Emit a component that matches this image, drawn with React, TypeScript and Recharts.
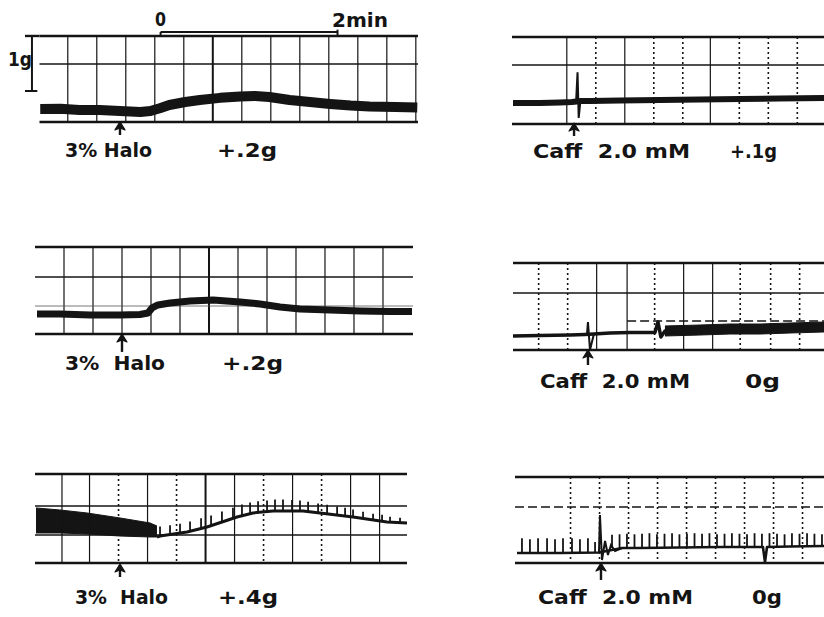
import React from 'react';
import { ComposedChart, Line, Area, XAxis, YAxis, ReferenceLine, ReferenceDot } from 'recharts';

const INK = '#141414';

// t = seconds from the drug arrow, g = tension (grams) above the pre-drug baseline

// top left: 3% halothane
const halo1Trace = [
  { t: -55, g: 0.018 }, { t: -41, g: 0.02 }, { t: -28, g: 0 }, { t: -14, g: 0 }, { t: 0, g: -0.02 },
  { t: 14, g: -0.036 }, { t: 21, g: -0.02 }, { t: 28, g: 0.036 }, { t: 34, g: 0.09 }, { t: 45, g: 0.145 },
  { t: 55, g: 0.18 }, { t: 69, g: 0.22 }, { t: 83, g: 0.245 }, { t: 93, g: 0.255 }, { t: 103, g: 0.236 },
  { t: 117, g: 0.18 }, { t: 131, g: 0.145 }, { t: 145, g: 0.11 }, { t: 159, g: 0.08 }, { t: 172, g: 0.064 },
  { t: 190, g: 0.055 }, { t: 205, g: 0.045 },
];
const halo1Borders = [1.345, -0.218];
const halo1Inner = [0.836];
const halo1Grid = [-36, -16, 4, 24, 44, 84, 104, 124, 144, 164, 184, 204];
const halo1GridBold = [64];
const halo1ScaleBar = [28, 150]; // 0 .. 2 min
const halo1Calib = [1.345, 0.345]; // 1 g

// middle left: 3% halothane
const halo2Trace = [
  { t: -58.6, g: 0 }, { t: -42.8, g: 0 }, { t: -22, g: -0.018 }, { t: -1.4, g: -0.018 }, { t: 12.4, g: -0.009 },
  { t: 17.9, g: 0.018 }, { t: 20.7, g: 0.109 }, { t: 24.8, g: 0.164 }, { t: 33.1, g: 0.2 }, { t: 46.9, g: 0.236 },
  { t: 62.8, g: 0.255 }, { t: 81.4, g: 0.218 }, { t: 95.2, g: 0.182 }, { t: 109, g: 0.127 }, { t: 122.8, g: 0.091 },
  { t: 143.4, g: 0.073 }, { t: 164.1, g: 0.055 }, { t: 184.8, g: 0.045 }, { t: 200, g: 0.045 },
];
const halo2Borders = [1.218, -0.364];
const halo2Inner = [0.673];
const halo2Faint = [0.145];
const halo2Grid = [-40, -20, 0, 20, 40, 80, 100, 120, 140, 160, 180];
const halo2GridBold = [60];

// bottom left: 3% halothane, twitching muscle
const halo3Band = [
  { t: -57.9, range: [0, 0.455] }, { t: -41.4, range: [0, 0.418] }, { t: -22.8, range: [-0.018, 0.364] },
  { t: 0, range: [-0.055, 0.273] }, { t: 20.7, range: [-0.073, 0.182] }, { t: 25.5, range: [-0.073, 0.127] },
];
const halo3Trace = [
  { t: 25.5, g: -0.073 }, { t: 27.6, g: -0.055 }, { t: 46.2, g: 0.018 }, { t: 60, g: 0.109 }, { t: 80.7, g: 0.291 },
  { t: 91.7, g: 0.364 }, { t: 105.5, g: 0.4 }, { t: 126.2, g: 0.4 }, { t: 137.9, g: 0.364 }, { t: 160.7, g: 0.291 },
  { t: 184.1, g: 0.2 }, { t: 197.9, g: 0.182 },
];
const halo3Twitches = [
  { t: 27.6, lo: -0.055, hi: 0.12 }, { t: 34.5, lo: -0.036, hi: 0.14 }, { t: 41.4, lo: -0.018, hi: 0.17 },
  { t: 48.3, lo: 0.018, hi: 0.21 }, { t: 55.9, lo: 0.073, hi: 0.27 }, { t: 62.8, lo: 0.127, hi: 0.32 },
  { t: 70.3, lo: 0.182, hi: 0.39 }, { t: 77.9, lo: 0.255, hi: 0.46 }, { t: 84.1, lo: 0.309, hi: 0.52 },
  { t: 89.7, lo: 0.345, hi: 0.555 }, { t: 95.2, lo: 0.364, hi: 0.575 }, { t: 101.4, lo: 0.382, hi: 0.59 },
  { t: 106.9, lo: 0.4, hi: 0.61 }, { t: 112.4, lo: 0.4, hi: 0.61 }, { t: 118.6, lo: 0.4, hi: 0.6 },
  { t: 124.1, lo: 0.4, hi: 0.59 }, { t: 129.7, lo: 0.382, hi: 0.57 }, { t: 136.6, lo: 0.364, hi: 0.535 },
  { t: 142.8, lo: 0.345, hi: 0.515 }, { t: 149.7, lo: 0.327, hi: 0.48 }, { t: 155.2, lo: 0.309, hi: 0.46 },
  { t: 160.7, lo: 0.291, hi: 0.425 }, { t: 167.6, lo: 0.255, hi: 0.385 }, { t: 174.5, lo: 0.236, hi: 0.35 },
  { t: 180.7, lo: 0.218, hi: 0.33 }, { t: 186.2, lo: 0.2, hi: 0.295 }, { t: 193.1, lo: 0.182, hi: 0.275 },
];
const halo3Borders = [1.073, -0.545];
const halo3Inner = [0.491, -0.036];
const halo3Grid = [-40, -21, 19, 79, 119, 159, 179];
const halo3GridDotted = [-1, 39, 99, 139];
const halo3GridBold = [59];

// top right: caffeine 2.0 mM
const caff1Trace = [
  { t: -42.1, g: 0 }, { t: -23.4, g: 0 }, { t: -9.7, g: 0.009 }, { t: -1.4, g: 0.018 }, { t: 4.8, g: 0.036 },
  { t: 11, g: 0.036 }, { t: 31.7, g: 0.045 }, { t: 59.3, g: 0.055 }, { t: 86.9, g: 0.064 }, { t: 114.5, g: 0.073 },
  { t: 142, g: 0.082 }, { t: 172.4, g: 0.091 },
];
const caff1Spike = [{ t: 1.4, g: 0.02 }, { t: 2.4, g: 0.56 }, { t: 3.2, g: -0.27 }, { t: 4.4, g: 0.04 }];
const caff1Borders = [1.2, -0.382];
const caff1Inner = [0.691];
const caff1Grid = [-5, 35, 94];
const caff1GridDotted = [15, 55, 75, 114, 134, 154];

// middle right: caffeine 2.0 mM
const caff2Trace = [
  { t: -51.7, g: -0.018 }, { t: -33.1, g: -0.009 }, { t: -12.4, g: 0 }, { t: -2.1, g: 0.009 }, { t: 4.1, g: 0.018 },
  { t: 15.2, g: 0.036 }, { t: 29, g: 0.045 }, { t: 46.2, g: 0.045 }, { t: 48.3, g: 0.236 }, { t: 50.3, g: -0.036 },
  { t: 53.1, g: 0.073 }, { t: 60, g: 0.091 }, { t: 77.2, g: 0.091 }, { t: 97.9, g: 0.1 }, { t: 118.6, g: 0.109 },
  { t: 139.3, g: 0.127 }, { t: 162.8, g: 0.145 },
];
const caff2Band = [
  { t: 53.1, range: [-0.018, 0.164] }, { t: 77.2, range: [0, 0.182] }, { t: 97.9, range: [0.018, 0.2] },
  { t: 118.6, range: [0.018, 0.2] }, { t: 139.3, range: [0.036, 0.218] }, { t: 162.8, range: [0.055, 0.236] },
];
const caff2Spike = [{ t: -0.7, g: 0.009 }, { t: 0, g: 0.236 }, { t: 1.4, g: -0.273 }, { t: 4.1, g: 0.018 }];
const caff2Borders = [1.309, -0.273];
const caff2Inner = [0.764];
const caff2InnerDashed = [0.255];
const caff2Grid = [6, 27, 66, 86];
const caff2GridDotted = [-34, -14, 46, 105, 126, 146];

// bottom right: caffeine 2.0 mM, twitching muscle
const caff3Trace = [
  { t: -57.9, g: 0 }, { t: -28.3, g: 0 }, { t: -1.4, g: 0.009 }, { t: 14.5, g: 0.091 }, { t: 26.9, g: 0.091 },
  { t: 54.5, g: 0.1 }, { t: 82.1, g: 0.109 }, { t: 111.7, g: 0.109 }, { t: 113.1, g: -0.164 }, { t: 114.5, g: 0.109 },
  { t: 130.3, g: 0.118 }, { t: 153.8, g: 0.127 },
];
const caff3Spike = [
  { t: -1.4, g: 0.009 }, { t: -0.7, g: 0.691 }, { t: 0.7, g: -0.127 }, { t: 2.8, g: 0.218 }, { t: 4.8, g: -0.036 },
  { t: 6.9, g: 0.145 }, { t: 9.7, g: 0.036 }, { t: 14.5, g: 0.091 },
];
const caff3Twitches = [
  { t: -54.5, lo: 0, hi: 0.27 }, { t: -49, lo: 0, hi: 0.25 }, { t: -43.4, lo: 0, hi: 0.27 }, { t: -37.2, lo: 0, hi: 0.27 },
  { t: -31.7, lo: 0, hi: 0.25 }, { t: -26.2, lo: 0, hi: 0.27 }, { t: -20, lo: 0, hi: 0.27 }, { t: -14.5, lo: 0, hi: 0.25 },
  { t: -9, lo: 0, hi: 0.27 }, { t: -4.1, lo: 0, hi: 0.2 },
  { t: 7.6, lo: 0.09, hi: 0.33 }, { t: 12.8, lo: 0.09, hi: 0.34 }, { t: 17.9, lo: 0.09, hi: 0.35 }, { t: 23.1, lo: 0.09, hi: 0.34 },
  { t: 28.3, lo: 0.09, hi: 0.35 }, { t: 33.4, lo: 0.092, hi: 0.36 }, { t: 38.6, lo: 0.094, hi: 0.34 }, { t: 43.8, lo: 0.096, hi: 0.35 },
  { t: 49, lo: 0.098, hi: 0.36 }, { t: 54.1, lo: 0.1, hi: 0.34 }, { t: 59.3, lo: 0.1, hi: 0.35 }, { t: 64.5, lo: 0.102, hi: 0.36 },
  { t: 69.7, lo: 0.104, hi: 0.35 }, { t: 74.8, lo: 0.106, hi: 0.36 }, { t: 80, lo: 0.108, hi: 0.34 }, { t: 85.2, lo: 0.109, hi: 0.35 },
  { t: 90.3, lo: 0.109, hi: 0.36 }, { t: 95.5, lo: 0.109, hi: 0.35 }, { t: 100.7, lo: 0.109, hi: 0.34 }, { t: 105.9, lo: 0.109, hi: 0.36 },
  { t: 111, lo: 0.109, hi: 0.35 }, { t: 116.2, lo: 0.11, hi: 0.36 }, { t: 121.4, lo: 0.112, hi: 0.35 }, { t: 126.6, lo: 0.114, hi: 0.34 },
  { t: 131.7, lo: 0.118, hi: 0.36 }, { t: 136.9, lo: 0.12, hi: 0.35 }, { t: 142.1, lo: 0.122, hi: 0.36 }, { t: 147.2, lo: 0.124, hi: 0.35 },
  { t: 152.4, lo: 0.126, hi: 0.34 },
];
const caff3Borders = [1.382, -0.182];
const caff3InnerDashed = [0.836];
const caff3GridDotted = [-21, -1, 19, 39, 59, 79, 99, 119, 139];

type Pt = { t: number; g: number };
type Twitch = { t: number; lo: number; hi: number };

type PanelProps = {
  left: number;
  top: number;
  width: number;
  height: number;
  x: [number, number];
  y: [number, number];
  from: number;
  borders: number[];
  inner?: number[];
  faint?: number[];
  innerDashed?: number[];
  dashedFrom?: number;
  grid?: number[];
  gridDotted?: number[];
  gridBold?: number[];
  trace: Pt[];
  traceWidth: number;
  spike?: Pt[];
  band?: { t: number; range: number[] }[];
  twitches?: Twitch[];
  arrow: [number, number];
  extras?: React.ReactNode[];
};

const seg = (a: number, b: number, c: number, d: number) => [
  { x: a, y: b },
  { x: c, y: d },
];

const ArrowHead = (props: any) => {
  const { cx, cy } = props;
  return (
    <path
      d={`M${cx},${cy - 1} L${cx + 5},${cy + 7} L${cx},${cy + 5} L${cx - 5},${cy + 7} Z`}
      fill={INK}
      stroke={INK}
      strokeWidth={1.2}
      strokeLinejoin="round"
    />
  );
};

function Panel(p: PanelProps) {
  const [top, bottom] = p.borders;
  const end = p.x[1];
  return (
    <div style={{ position: 'absolute', left: p.left, top: p.top, width: p.width, height: p.height }}>
      <ComposedChart
        width={p.width}
        height={p.height}
        data={p.band ?? []}
        margin={{ top: 0, right: 0, bottom: 0, left: 0 }}
      >
        <XAxis type="number" dataKey="t" domain={p.x} hide allowDataOverflow />
        <YAxis type="number" domain={p.y} hide allowDataOverflow />
        {(p.grid ?? []).map((t) => (
          <ReferenceLine key={'v' + t} segment={seg(t, top, t, bottom)} stroke={INK} strokeWidth={1.2} ifOverflow="visible" />
        ))}
        {(p.gridDotted ?? []).map((t) => (
          <ReferenceLine
            key={'d' + t}
            segment={seg(t, top, t, bottom)}
            stroke={INK}
            strokeWidth={1.6}
            strokeDasharray="2 3"
            ifOverflow="visible"
          />
        ))}
        {(p.gridBold ?? []).map((t) => (
          <ReferenceLine key={'b' + t} segment={seg(t, top, t, bottom)} stroke={INK} strokeWidth={2} ifOverflow="visible" />
        ))}
        {(p.inner ?? []).map((g) => (
          <ReferenceLine key={'h' + g} segment={seg(p.from, g, end, g)} stroke={INK} strokeWidth={1.4} ifOverflow="visible" />
        ))}
        {(p.faint ?? []).map((g) => (
          <ReferenceLine key={'f' + g} segment={seg(p.from, g, end, g)} stroke="#555" strokeWidth={0.8} ifOverflow="visible" />
        ))}
        {(p.innerDashed ?? []).map((g) => (
          <ReferenceLine
            key={'hd' + g}
            segment={seg(p.dashedFrom ?? p.from, g, end, g)}
            stroke={INK}
            strokeWidth={1.4}
            strokeDasharray="9 4"
            ifOverflow="visible"
          />
        ))}
        {p.borders.map((g) => (
          <ReferenceLine key={'B' + g} segment={seg(p.from, g, end, g)} stroke={INK} strokeWidth={2.4} ifOverflow="visible" />
        ))}
        {p.band && (
          <Area
            dataKey="range"
            type="linear"
            stroke={INK}
            strokeWidth={1}
            fill={INK}
            fillOpacity={1}
            isAnimationActive={false}
            dot={false}
            activeDot={false}
          />
        )}
        <Line
          data={p.trace}
          dataKey="g"
          type="linear"
          stroke={INK}
          strokeWidth={p.traceWidth}
          strokeLinejoin="round"
          dot={false}
          activeDot={false}
          isAnimationActive={false}
        />
        {p.spike && (
          <Line
            data={p.spike}
            dataKey="g"
            type="linear"
            stroke={INK}
            strokeWidth={2}
            dot={false}
            activeDot={false}
            isAnimationActive={false}
          />
        )}
        {(p.twitches ?? []).map((w) => (
          <ReferenceLine key={'w' + w.t} segment={seg(w.t, w.lo, w.t, w.hi)} stroke={INK} strokeWidth={1.8} ifOverflow="visible" />
        ))}
        <ReferenceLine segment={seg(0, p.arrow[0], 0, p.arrow[1])} stroke={INK} strokeWidth={2.4} ifOverflow="visible" />
        <ReferenceDot x={0} y={p.arrow[0]} r={0} shape={ArrowHead} ifOverflow="visible" />
        {p.extras ?? []}
      </ComposedChart>
    </div>
  );
}

const labels = [
  { text: '0', x: 155, y: 26, w: 11 },
  { text: '2min', x: 332, y: 27, w: 56 },
  { text: '1g', x: 8, y: 66, w: 24 },
  { text: '3% Halo', x: 65, y: 157, w: 87 },
  { text: '+.2g', x: 217, y: 157, w: 60 },
  { text: '3%  Halo', x: 65, y: 370, w: 100 },
  { text: '+.2g', x: 222, y: 370, w: 61 },
  { text: '3%  Halo', x: 75, y: 604, w: 93 },
  { text: '+.4g', x: 218, y: 604, w: 60 },
  { text: 'Caff  2.0 mM', x: 533, y: 158, w: 157 },
  { text: '+.1g', x: 730, y: 158, w: 47 },
  { text: 'Caff  2.0 mM', x: 540, y: 388, w: 150 },
  { text: '0g', x: 745, y: 388, w: 35 },
  { text: 'Caff  2.0 mM', x: 538, y: 604, w: 155 },
  { text: '0g', x: 752, y: 604, w: 30 },
];

export default function App() {
  const [s0, s1] = halo1ScaleBar;
  const halo1Extras = [
    <ReferenceLine key="sb" segment={seg(s0, 1.418, s1, 1.418)} stroke={INK} strokeWidth={2} ifOverflow="visible" />,
    <ReferenceLine key="sb0" segment={seg(s0, 1.418, s0, 1.36)} stroke={INK} strokeWidth={2} ifOverflow="visible" />,
    <ReferenceLine key="sb1" segment={seg(s1, 1.46, s1, 1.36)} stroke={INK} strokeWidth={2} ifOverflow="visible" />,
    <ReferenceLine key="top" segment={seg(-65.5, halo1Borders[0], -55.5, halo1Borders[0])} stroke={INK} strokeWidth={2.4} ifOverflow="visible" />,
    <ReferenceLine key="cal" segment={seg(-60.7, halo1Calib[0], -60.7, halo1Calib[1])} stroke={INK} strokeWidth={2} ifOverflow="visible" />,
    <ReferenceLine key="calb" segment={seg(-65.5, halo1Calib[1], -57, halo1Calib[1])} stroke={INK} strokeWidth={2} ifOverflow="visible" />,
  ];

  return (
    <div
      style={{
        position: 'absolute',
        left: 0,
        top: 0,
        width: 824,
        height: 617,
        background: '#fff',
        overflow: 'hidden',
      }}
    >
      <Panel
        left={25} top={28} width={393} height={110}
        x={[-65.5, 205.5]} y={[-0.51, 1.49]} from={-55.5}
        borders={halo1Borders} inner={halo1Inner} grid={halo1Grid} gridBold={halo1GridBold}
        trace={halo1Trace} traceWidth={10} arrow={[-0.236, -0.455]} extras={halo1Extras}
      />
      <Panel
        left={35} top={240} width={378} height={116}
        x={[-60, 200.7]} y={[-0.764, 1.345]} from={-60}
        borders={halo2Borders} inner={halo2Inner} faint={halo2Faint} grid={halo2Grid} gridBold={halo2GridBold}
        trace={halo2Trace} traceWidth={7} arrow={[-0.382, -0.69]}
      />
      <Panel
        left={35} top={465} width={372} height={115}
        x={[-58.6, 197.9]} y={[-0.855, 1.236]} from={-58.6}
        borders={halo3Borders} inner={halo3Inner} grid={halo3Grid} gridDotted={halo3GridDotted} gridBold={halo3GridBold}
        band={halo3Band} trace={halo3Trace} traceWidth={3} twitches={halo3Twitches} arrow={[-0.582, -0.8]}
      />
      <Panel
        left={512} top={28} width={312} height={110}
        x={[-42.8, 172.4]} y={[-0.636, 1.364]} from={-42.8}
        borders={caff1Borders} inner={caff1Inner} grid={caff1Grid} gridDotted={caff1GridDotted}
        trace={caff1Trace} traceWidth={6} spike={caff1Spike} arrow={[-0.382, -0.6]}
      />
      <Panel
        left={513} top={255} width={311} height={113}
        x={[-51.7, 162.8]} y={[-0.6, 1.455]} from={-51.7}
        borders={caff2Borders} inner={caff2Inner} innerDashed={caff2InnerDashed} dashedFrom={27}
        grid={caff2Grid} gridDotted={caff2GridDotted}
        band={caff2Band} trace={caff2Trace} traceWidth={3.5} spike={caff2Spike} arrow={[-0.29, -0.545]}
      />
      <Panel
        left={515} top={468} width={309} height={114}
        x={[-59.3, 153.8]} y={[-0.527, 1.545]} from={-59.3}
        borders={caff3Borders} innerDashed={caff3InnerDashed} gridDotted={caff3GridDotted}
        trace={caff3Trace} traceWidth={2.6} spike={caff3Spike} twitches={caff3Twitches} arrow={[-0.2, -0.49]}
      />
      <svg
        width={824}
        height={617}
        style={{ position: 'absolute', left: 0, top: 0, pointerEvents: 'none' }}
        fontFamily="'DejaVu Sans', sans-serif"
        fontWeight="bold"
        fontSize={20}
        fill={INK}
      >
        {labels.map((l, i) => (
          <text key={i} x={l.x} y={l.y} textLength={l.w} lengthAdjust="spacingAndGlyphs" xmlSpace="preserve">
            {l.text}
          </text>
        ))}
      </svg>
    </div>
  );
}
